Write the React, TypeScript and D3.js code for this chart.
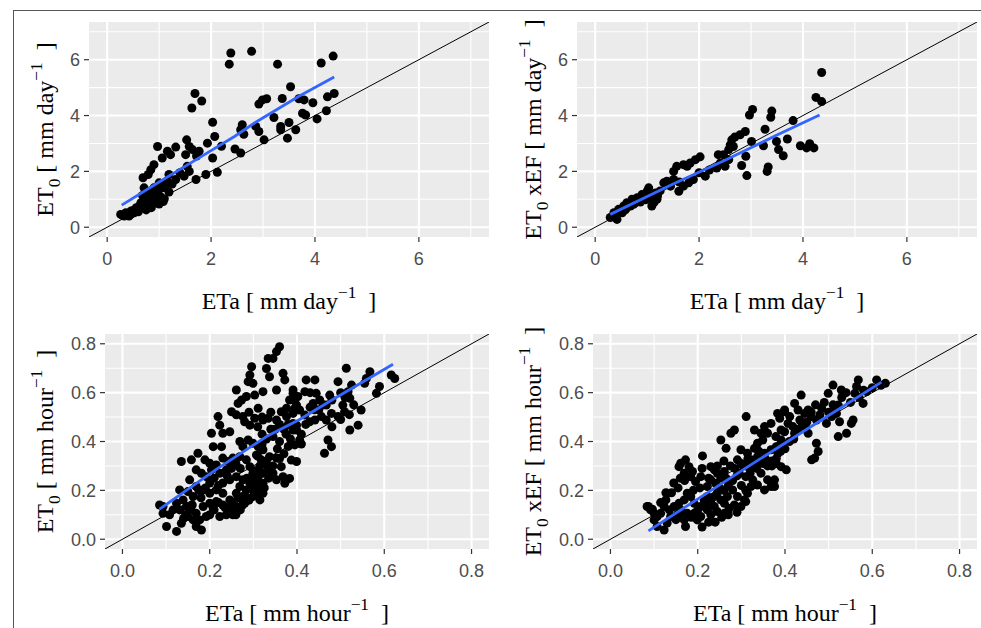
import React from "react";
import * as d3 from "d3";

type P = [number, number];

// ---------- axis definitions ----------
const dayLimits: P = [0, 7];
const hourLimits: P = [0, 0.8];
const dayMajor = [0, 2, 4, 6];
const dayMinor = [1, 3, 5, 7];
const hourMajor = [0, 0.2, 0.4, 0.6, 0.8];
const hourMinor = [0.1, 0.3, 0.5, 0.7];

// ---------- data: ETa (x) vs ET0 / ET0xEF (y) ----------
const dailyEt0: P[] = [
  [2.38, 6.24], [2.78, 6.3], [2.35, 5.84], [3.28, 5.84], [4.12, 5.88], [4.35, 6.13],
  [1.69, 4.79], [1.63, 4.27], [1.82, 4.52], [3.53, 5.03], [3.37, 4.61], [2.99, 4.56], [2.92, 4.41],
  [3.07, 4.6], [3.69, 4.6], [3.79, 4.56], [3.96, 4.46], [4.24, 4.67], [4.37, 4.79], [3.76, 4.08],
  [3.82, 4.02], [4.04, 3.88], [4.22, 4.17], [3.21, 3.93], [3.34, 3.61], [3.5, 3.75], [3.34, 3.49],
  [3.47, 3.19], [3.63, 3.49], [2.92, 3.43], [3.02, 3.13], [2.86, 3.61], [2.6, 3.67], [2.63, 3.33],
  [2.57, 3.49], [2.46, 2.8], [2.57, 2.66], [2.03, 3.76], [2.07, 3.25], [2.03, 2.48], [1.9, 1.89],
  [1.71, 1.71], [2.12, 1.97], [1.53, 3.13], [1.58, 2.89], [1.51, 2.6], [1.64, 2.78], [1.77, 2.72],
  [1.93, 3.01], [0.97, 2.89], [1.16, 2.72], [1.32, 2.87], [1.06, 2.48], [1.22, 2.6], [0.9, 2.24],
  [0.84, 2.06], [0.69, 1.77], [0.79, 1.89], [1.19, 1.89], [1.32, 1.71], [1.48, 1.83], [1.58, 2.0],
  [1.54, 2.18], [1.0, 1.59], [1.1, 1.41], [1.19, 1.26], [0.9, 1.41], [0.71, 1.41], [0.78, 1.23],
  [0.87, 1.11], [0.68, 1.14], [1.03, 0.96], [0.94, 0.88], [0.81, 0.82], [0.71, 0.7], [0.62, 0.76],
  [0.55, 0.64], [0.46, 0.58], [0.36, 0.52], [0.26, 0.46], [0.33, 0.4], [0.42, 0.4], [0.52, 0.52],
  [0.65, 0.88], [0.74, 1.0], [0.87, 0.94], [0.48, 0.5], [0.58, 0.62], [0.66, 0.72], [0.76, 0.8],
  [0.85, 0.86], [0.92, 1.02], [1.02, 1.1], [0.98, 1.3], [1.12, 1.52], [0.6, 0.55], [0.4, 0.45],
  [0.3, 0.42], [0.56, 0.7], [0.83, 1.2], [0.95, 1.18], [1.08, 0.92], [0.45, 0.45], [0.5, 0.6],
  [0.7, 0.85], [0.8, 1.05], [1.05, 1.45], [1.15, 1.65], [0.75, 0.62], [0.85, 0.7], [1.1, 1.02],
  [1.0, 0.83], [1.25, 1.55], [1.4, 1.95], [1.72, 2.55], [2.2, 2.9],
];

const dailyEt0Ef: P[] = [
  [4.36, 5.54], [4.25, 4.65], [4.36, 4.5], [3.03, 4.22], [2.97, 4.02], [3.4, 4.16], [3.38, 3.94],
  [3.81, 3.82], [2.89, 3.43], [2.79, 3.31], [2.69, 3.23], [2.63, 3.13], [2.6, 2.95], [2.57, 2.78],
  [2.66, 2.89], [3.27, 3.51], [3.24, 2.92], [3.01, 3.07], [2.9, 2.54], [2.82, 2.21], [2.92, 1.85],
  [3.49, 3.07], [3.53, 2.78], [3.62, 2.56], [3.7, 3.16], [3.33, 2.16], [3.31, 2.0], [3.95, 2.92],
  [4.07, 2.84], [4.13, 2.99], [4.21, 2.84], [2.47, 2.6], [2.37, 2.6], [2.57, 2.42], [2.5, 2.18],
  [2.41, 2.3], [2.34, 2.12], [2.02, 2.52], [1.93, 2.42], [1.83, 2.3], [1.77, 2.18], [1.7, 2.24],
  [1.57, 2.18], [1.51, 2.0], [2.12, 1.83], [1.89, 1.71], [1.8, 1.59], [1.7, 1.47], [1.61, 1.29],
  [1.51, 1.71], [1.45, 1.47], [1.38, 1.65], [1.32, 1.59], [1.03, 1.41], [1.0, 1.29], [0.9, 1.17],
  [0.81, 1.06], [0.71, 1.0], [0.61, 0.88], [0.55, 0.76], [0.45, 0.64], [0.36, 0.52], [0.29, 0.35],
  [0.42, 0.28], [0.52, 0.52], [0.61, 0.7], [0.74, 0.82], [0.87, 0.9], [1.03, 1.06], [1.13, 0.88],
  [1.19, 1.0], [1.09, 0.76], [1.16, 1.23], [0.93, 1.11], [0.68, 0.76], [0.48, 0.58], [0.8, 0.92],
  [1.25, 1.3], [1.42, 1.55], [1.62, 1.62], [0.38, 0.42], [0.58, 0.62], [0.78, 0.88], [0.97, 0.98],
  [1.2, 1.12], [2.2, 2.05], [2.0, 1.95],
];

const hourlyEt0: P[] = [
  [0.36, 0.788], [0.353, 0.768], [0.345, 0.74], [0.334, 0.74], [0.33, 0.699], [0.296, 0.706],
  [0.292, 0.672], [0.288, 0.645], [0.299, 0.638], [0.368, 0.679], [0.372, 0.652], [0.337, 0.665],
  [0.261, 0.611], [0.273, 0.57], [0.265, 0.556], [0.284, 0.584], [0.303, 0.59], [0.322, 0.604],
  [0.311, 0.536], [0.353, 0.611], [0.391, 0.597], [0.383, 0.57], [0.376, 0.536], [0.391, 0.515],
  [0.399, 0.549], [0.25, 0.522], [0.261, 0.509], [0.276, 0.502], [0.28, 0.481], [0.292, 0.467],
  [0.303, 0.495], [0.322, 0.488], [0.334, 0.495], [0.353, 0.488], [0.364, 0.522], [0.376, 0.502],
  [0.391, 0.474], [0.399, 0.447], [0.219, 0.502], [0.223, 0.467], [0.204, 0.434], [0.23, 0.434],
  [0.227, 0.379], [0.208, 0.379], [0.246, 0.44], [0.269, 0.4], [0.276, 0.379],
  [0.288, 0.406], [0.299, 0.393], [0.311, 0.379], [0.322, 0.366], [0.307, 0.345], [0.318, 0.325],
  [0.33, 0.304], [0.337, 0.338], [0.353, 0.332], [0.364, 0.297], [0.368, 0.256], [0.372, 0.229],
  [0.353, 0.243], [0.345, 0.27], [0.337, 0.284], [0.322, 0.27], [0.311, 0.256], [0.299, 0.27],
  [0.292, 0.297], [0.284, 0.325], [0.269, 0.338], [0.253, 0.332], [0.242, 0.318], [0.23, 0.332],
  [0.215, 0.304], [0.2, 0.311], [0.189, 0.325], [0.173, 0.352], [0.158, 0.325], [0.169, 0.284],
  [0.181, 0.27], [0.192, 0.256], [0.204, 0.284], [0.223, 0.27], [0.238, 0.284], [0.246, 0.243],
  [0.261, 0.256], [0.276, 0.243], [0.292, 0.229], [0.307, 0.216], [0.322, 0.229], [0.322, 0.188],
  [0.315, 0.161], [0.299, 0.175], [0.284, 0.202], [0.276, 0.161], [0.261, 0.188], [0.246, 0.161],
  [0.23, 0.188], [0.215, 0.202], [0.2, 0.188], [0.185, 0.202], [0.169, 0.216], [0.154, 0.243],
  [0.135, 0.318], [0.131, 0.202], [0.15, 0.195], [0.162, 0.175], [0.139, 0.161], [0.124, 0.147],
  [0.116, 0.12], [0.131, 0.12], [0.147, 0.134], [0.101, 0.052], [0.124, 0.032], [0.093, 0.134],
  [0.085, 0.14], [0.093, 0.106], [0.108, 0.1], [0.169, 0.106], [0.185, 0.134], [0.2, 0.147],
  [0.215, 0.154], [0.23, 0.14], [0.246, 0.12], [0.253, 0.1], [0.238, 0.1], [0.223, 0.093],
  [0.208, 0.127], [0.192, 0.093], [0.177, 0.079], [0.162, 0.079], [0.15, 0.093], [0.169, 0.052],
  [0.181, 0.038], [0.2, 0.1], [0.261, 0.134], [0.28, 0.147], [0.307, 0.243], [0.269, 0.216],
  [0.513, 0.7], [0.567, 0.686], [0.616, 0.672], [0.624, 0.658], [0.589, 0.625], [0.582, 0.597],
  [0.559, 0.658], [0.555, 0.638], [0.547, 0.529], [0.54, 0.467], [0.521, 0.447], [0.494, 0.645],
  [0.525, 0.631], [0.517, 0.604], [0.521, 0.577], [0.505, 0.549], [0.509, 0.522], [0.494, 0.502],
  [0.479, 0.515], [0.467, 0.488], [0.471, 0.406], [0.479, 0.379], [0.463, 0.352], [0.441, 0.652],
  [0.421, 0.652], [0.418, 0.604], [0.402, 0.584], [0.391, 0.611], [0.395, 0.57], [0.444, 0.597],
  [0.452, 0.57], [0.437, 0.556], [0.475, 0.59], [0.467, 0.549], [0.456, 0.502], [0.441, 0.488],
  [0.429, 0.481], [0.418, 0.508], [0.406, 0.529], [0.395, 0.536], [0.399, 0.467], [0.391, 0.447],
  [0.406, 0.406], [0.395, 0.386], [0.387, 0.324], [0.399, 0.318], [0.383, 0.249],
  [0.345, 0.42], [0.36, 0.4], [0.375, 0.43], [0.38, 0.38], [0.355, 0.37], [0.37, 0.35],
  [0.34, 0.45], [0.32, 0.43], [0.33, 0.41], [0.385, 0.41], [0.43, 0.54], [0.45, 0.53], [0.43, 0.6],
  [0.21, 0.12], [0.22, 0.15], [0.235, 0.13], [0.25, 0.15], [0.265, 0.17], [0.27, 0.12], [0.28, 0.18],
  [0.29, 0.16], [0.3, 0.2], [0.31, 0.19], [0.285, 0.25], [0.295, 0.24], [0.305, 0.28], [0.315, 0.3],
  [0.27, 0.29], [0.26, 0.31], [0.25, 0.29], [0.24, 0.26], [0.23, 0.23], [0.22, 0.22], [0.21, 0.25],
  [0.2, 0.23], [0.19, 0.21], [0.18, 0.17], [0.175, 0.2], [0.16, 0.14], [0.155, 0.12], [0.145, 0.1],
  [0.14, 0.085], [0.135, 0.065], [0.26, 0.1], [0.255, 0.12], [0.275, 0.14], [0.325, 0.21],
  [0.335, 0.25], [0.345, 0.3], [0.36, 0.33], [0.33, 0.32], [0.31, 0.34], [0.32, 0.39], [0.35, 0.45],
  [0.36, 0.47], [0.37, 0.45], [0.38, 0.47], [0.41, 0.43], [0.42, 0.47], [0.44, 0.53], [0.46, 0.55],
  [0.48, 0.57], [0.5, 0.6], [0.51, 0.58], [0.53, 0.55], [0.5, 0.49], [0.52, 0.51], [0.48, 0.46],
  [0.41, 0.39], [0.34, 0.52], [0.32, 0.5], [0.31, 0.46], [0.29, 0.52],
];

const hourlyEt0Ef: P[] = [
  [0.311, 0.502], [0.284, 0.447], [0.276, 0.434], [0.253, 0.406], [0.265, 0.372], [0.211, 0.341],
  [0.172, 0.325], [0.161, 0.311], [0.157, 0.297], [0.18, 0.297], [0.188, 0.277], [0.169, 0.27],
  [0.184, 0.256], [0.195, 0.236], [0.207, 0.256], [0.23, 0.297], [0.238, 0.284], [0.245, 0.27],
  [0.261, 0.277], [0.23, 0.243], [0.241, 0.229], [0.253, 0.25], [0.222, 0.216],
  [0.291, 0.325], [0.303, 0.304], [0.314, 0.297], [0.295, 0.27], [0.31, 0.256], [0.326, 0.243],
  [0.337, 0.222], [0.353, 0.202], [0.368, 0.216], [0.36, 0.243], [0.345, 0.27], [0.33, 0.297],
  [0.322, 0.325], [0.337, 0.338], [0.353, 0.352], [0.368, 0.366], [0.383, 0.379], [0.391, 0.393],
  [0.379, 0.42], [0.391, 0.447], [0.36, 0.434], [0.349, 0.406], [0.337, 0.393], [0.33, 0.372],
  [0.314, 0.352], [0.299, 0.366],
  [0.322, 0.216], [0.314, 0.188], [0.307, 0.161], [0.291, 0.175], [0.28, 0.202], [0.268, 0.175],
  [0.261, 0.147], [0.253, 0.161], [0.238, 0.175], [0.222, 0.175], [0.215, 0.147], [0.207, 0.134],
  [0.192, 0.147], [0.184, 0.175], [0.176, 0.188], [0.169, 0.161], [0.157, 0.147], [0.146, 0.134],
  [0.13, 0.188], [0.127, 0.161], [0.123, 0.134], [0.115, 0.106], [0.107, 0.093], [0.1, 0.079],
  [0.107, 0.052], [0.123, 0.038], [0.13, 0.066], [0.084, 0.134], [0.092, 0.12], [0.1, 0.106],
  [0.138, 0.093], [0.153, 0.1], [0.161, 0.12], [0.176, 0.106], [0.169, 0.079], [0.172, 0.052],
  [0.192, 0.106], [0.199, 0.079], [0.207, 0.093], [0.222, 0.12], [0.23, 0.1], [0.238, 0.134],
  [0.245, 0.113], [0.261, 0.106], [0.272, 0.127], [0.284, 0.14], [0.299, 0.134], [0.31, 0.154],
  [0.383, 0.515], [0.399, 0.529], [0.368, 0.474], [0.353, 0.461], [0.345, 0.434], [0.33, 0.447],
  [0.61, 0.652], [0.63, 0.638], [0.568, 0.652], [0.564, 0.625], [0.56, 0.597], [0.587, 0.604],
  [0.579, 0.556], [0.51, 0.631], [0.499, 0.597], [0.529, 0.611], [0.522, 0.549], [0.518, 0.515],
  [0.507, 0.502], [0.495, 0.474], [0.525, 0.481], [0.514, 0.529], [0.556, 0.488], [0.552, 0.474],
  [0.541, 0.434], [0.522, 0.42], [0.484, 0.536], [0.472, 0.488], [0.437, 0.59], [0.422, 0.556],
  [0.43, 0.529], [0.445, 0.515], [0.453, 0.529], [0.46, 0.502], [0.434, 0.488], [0.411, 0.502],
  [0.399, 0.522], [0.388, 0.495], [0.407, 0.474], [0.418, 0.461], [0.445, 0.461], [0.453, 0.434],
  [0.422, 0.434], [0.399, 0.44], [0.391, 0.406], [0.38, 0.379], [0.384, 0.352], [0.472, 0.393],
  [0.476, 0.359], [0.468, 0.332], [0.461, 0.325], [0.391, 0.297], [0.403, 0.284], [0.376, 0.243],
  [0.376, 0.216],
  [0.087, 0.134], [0.096, 0.123], [0.115, 0.15], [0.127, 0.19], [0.36, 0.3], [0.37, 0.32],
  [0.35, 0.31], [0.34, 0.36], [0.38, 0.33],
  [0.2, 0.12], [0.215, 0.16], [0.23, 0.15], [0.245, 0.19], [0.26, 0.2], [0.27, 0.22], [0.28, 0.24],
  [0.29, 0.26], [0.3, 0.22], [0.31, 0.2], [0.32, 0.27], [0.335, 0.29], [0.34, 0.32], [0.355, 0.33],
  [0.37, 0.3], [0.38, 0.31], [0.39, 0.36], [0.4, 0.37], [0.41, 0.4], [0.42, 0.41], [0.43, 0.45],
  [0.44, 0.47], [0.45, 0.48], [0.46, 0.52], [0.47, 0.55], [0.48, 0.51], [0.49, 0.56], [0.5, 0.52],
  [0.51, 0.55], [0.53, 0.58], [0.54, 0.6], [0.55, 0.56], [0.57, 0.58], [0.58, 0.61], [0.6, 0.62],
  [0.62, 0.63], [0.19, 0.2], [0.205, 0.21], [0.225, 0.25], [0.25, 0.21], [0.265, 0.25], [0.285, 0.29],
  [0.3, 0.31], [0.315, 0.33], [0.275, 0.3], [0.26, 0.32], [0.245, 0.3], [0.21, 0.29], [0.17, 0.24],
  [0.155, 0.21], [0.14, 0.19], [0.145, 0.23], [0.16, 0.25], [0.135, 0.12], [0.15, 0.08], [0.16, 0.1],
  [0.185, 0.09], [0.24, 0.07], [0.255, 0.09], [0.27, 0.1], [0.29, 0.11], [0.21, 0.05], [0.225, 0.07],
];

// ---------- fitted (blue) lines ----------
const fitDailyEt0: P[] = [[0.28, 0.79], [1.0, 1.62], [1.8, 2.52], [2.45, 3.25], [2.85, 3.75], [3.7, 4.7], [4.37, 5.38]];
const fitDailyEt0Ef: P[] = [[0.29, 0.46], [1.5, 1.55], [2.5, 2.4], [3.5, 3.3], [4.32, 4.02]];
const fitHourlyEt0: P[] = [[0.085, 0.123], [0.215, 0.286], [0.33, 0.42], [0.406, 0.49], [0.483, 0.573], [0.62, 0.716]];
const fitHourlyEt0Ef: P[] = [[0.087, 0.034], [0.3, 0.28], [0.45, 0.45], [0.621, 0.643]];

// ---------- titles ----------
type Part = { t: string; k?: "sub" | "sup" };
const xTitleDay: Part[] = [{ t: "ETa [ mm day" }, { t: "\u22121", k: "sup" }, { t: "  ]" }];
const xTitleHour: Part[] = [{ t: "ETa [ mm hour" }, { t: "\u22121", k: "sup" }, { t: "  ]" }];
const yTitleDay: Part[] = [{ t: "ET" }, { t: "0", k: "sub" }, { t: " [ mm day" }, { t: "\u22121", k: "sup" }, { t: "  ]" }];
const yTitleDayEf: Part[] = [{ t: "ET" }, { t: "0", k: "sub" }, { t: " xEF [ mm day" }, { t: "\u22121", k: "sup" }, { t: "  ]" }];
const yTitleHour: Part[] = [{ t: "ET" }, { t: "0", k: "sub" }, { t: " [ mm hour" }, { t: "\u22121", k: "sup" }, { t: "  ]" }];
const yTitleHourEf: Part[] = [{ t: "ET" }, { t: "0", k: "sub" }, { t: " xEF [ mm hour" }, { t: "\u22121", k: "sup" }, { t: "  ]" }];

const TITLE_FS = 24;
const TICK_FS = 18;
const SERIF = "'Liberation Serif', 'Times New Roman', serif";
const SANS = "'Liberation Sans', Arial, sans-serif";

function TitleText({ parts, ...rest }: { parts: Part[]; [k: string]: any }) {
  let cur = 0;
  const spans = parts.map((p, i) => {
    const target = p.k === "sub" ? TITLE_FS * 0.28 : p.k === "sup" ? -TITLE_FS * 0.45 : 0;
    const dy = target - cur;
    cur = target;
    return (
      <tspan key={i} dy={dy} fontSize={p.k ? TITLE_FS * 0.72 : TITLE_FS} style={{ whiteSpace: "pre" }}>
        {p.t}
      </tspan>
    );
  });
  return (
    <text fontFamily={SERIF} fontSize={TITLE_FS} fill="#000" textAnchor="middle" style={{ whiteSpace: "pre" }} {...rest}>
      {spans}
    </text>
  );
}

type Box = { x0: number; x1: number; y0: number; y1: number };

function Panel(props: {
  id: string;
  box: Box;
  limits: P;
  major: number[];
  minor: number[];
  fmt: (v: number) => string;
  points: P[];
  fit: P[];
  xTitle: Part[];
  yTitle: Part[];
  yTitleX: number;
  xTitleY: number;
}) {
  const { id, box, limits, major, minor, fmt, points, fit, xTitle, yTitle, yTitleX, xTitleY } = props;
  const pad = (limits[1] - limits[0]) * 0.05;
  const dom: P = [limits[0] - pad, limits[1] + pad];
  const x = d3.scaleLinear().domain(dom).range([box.x0, box.x1]);
  const y = d3.scaleLinear().domain(dom).range([box.y1, box.y0]);
  const line = d3.line<P>().x((d) => x(d[0])).y((d) => y(d[1]));
  const cx = (box.x0 + box.x1) / 2;
  const cy = (box.y0 + box.y1) / 2;
  return (
    <g>
      <defs>
        <clipPath id={`clip-${id}`}>
          <rect x={box.x0} y={box.y0} width={box.x1 - box.x0} height={box.y1 - box.y0} />
        </clipPath>
      </defs>
      <rect x={box.x0} y={box.y0} width={box.x1 - box.x0} height={box.y1 - box.y0} fill="#EBEBEB" />
      {minor.map((v) => (
        <g key={`mn${v}`}>
          <line x1={x(v)} x2={x(v)} y1={box.y0} y2={box.y1} stroke="#fff" strokeWidth={1.1} />
          <line x1={box.x0} x2={box.x1} y1={y(v)} y2={y(v)} stroke="#fff" strokeWidth={1.1} />
        </g>
      ))}
      {major.map((v) => (
        <g key={`mj${v}`}>
          <line x1={x(v)} x2={x(v)} y1={box.y0} y2={box.y1} stroke="#fff" strokeWidth={2.1} />
          <line x1={box.x0} x2={box.x1} y1={y(v)} y2={y(v)} stroke="#fff" strokeWidth={2.1} />
        </g>
      ))}
      <g clipPath={`url(#clip-${id})`}>
        <line x1={x(dom[0])} y1={y(dom[0])} x2={x(dom[1])} y2={y(dom[1])} stroke="#000" strokeWidth={1} />
        {points.map((d, i) => (
          <circle key={i} cx={x(d[0])} cy={y(d[1])} r={4.5} fill="#000" />
        ))}
        <path d={line(fit) || ""} fill="none" stroke="#3366FF" strokeWidth={2.8} strokeLinejoin="round" />
      </g>
      {major.map((v) => (
        <g key={`tk${v}`}>
          <line x1={x(v)} x2={x(v)} y1={box.y1} y2={box.y1 + 5} stroke="#333" strokeWidth={1.2} />
          <text x={x(v)} y={box.y1 + 28} textAnchor="middle" fontFamily={SANS} fontSize={TICK_FS} fill="#4D4D4D">
            {fmt(v)}
          </text>
          <line x1={box.x0 - 5} x2={box.x0} y1={y(v)} y2={y(v)} stroke="#333" strokeWidth={1.2} />
          <text x={box.x0 - 9} y={y(v) + 6.5} textAnchor="end" fontFamily={SANS} fontSize={TICK_FS} fill="#4D4D4D">
            {fmt(v)}
          </text>
        </g>
      ))}
      <TitleText parts={xTitle} x={cx} y={xTitleY} />
      <TitleText parts={yTitle} x={0} y={0} transform={`translate(${yTitleX},${cy}) rotate(-90)`} />
    </g>
  );
}

export default function App() {
  const fmtDay = d3.format("d");
  const fmtHour = d3.format(".1f");
  return (
    <svg width={981} height={628} style={{ position: "absolute", left: 0, top: 0, background: "#fff" }}>
      <rect x={0} y={0} width={981} height={628} fill="#fff" />
      <line x1={13} y1={10.5} x2={981} y2={10.5} stroke="#555" strokeWidth={1} />
      <line x1={13.5} y1={10} x2={13.5} y2={628} stroke="#555" strokeWidth={1} />
      <Panel id="p1" box={{ x0: 89, x1: 489, y0: 22, y1: 237 }} limits={dayLimits} major={dayMajor} minor={dayMinor}
        fmt={fmtDay} points={dailyEt0} fit={fitDailyEt0} xTitle={xTitleDay} yTitle={yTitleDay} yTitleX={53} xTitleY={309} />
      <Panel id="p2" box={{ x0: 577, x1: 977, y0: 22, y1: 237 }} limits={dayLimits} major={dayMajor} minor={dayMinor}
        fmt={fmtDay} points={dailyEt0Ef} fit={fitDailyEt0Ef} xTitle={xTitleDay} yTitle={yTitleDayEf} yTitleX={541} xTitleY={309} />
      <Panel id="p3" box={{ x0: 105, x1: 489, y0: 334, y1: 549 }} limits={hourLimits} major={hourMajor} minor={hourMinor}
        fmt={fmtHour} points={hourlyEt0} fit={fitHourlyEt0} xTitle={xTitleHour} yTitle={yTitleHour} yTitleX={53} xTitleY={621} />
      <Panel id="p4" box={{ x0: 593, x1: 977, y0: 334, y1: 549 }} limits={hourLimits} major={hourMajor} minor={hourMinor}
        fmt={fmtHour} points={hourlyEt0Ef} fit={fitHourlyEt0Ef} xTitle={xTitleHour} yTitle={yTitleHourEf} yTitleX={541} xTitleY={621} />
    </svg>
  );
}
